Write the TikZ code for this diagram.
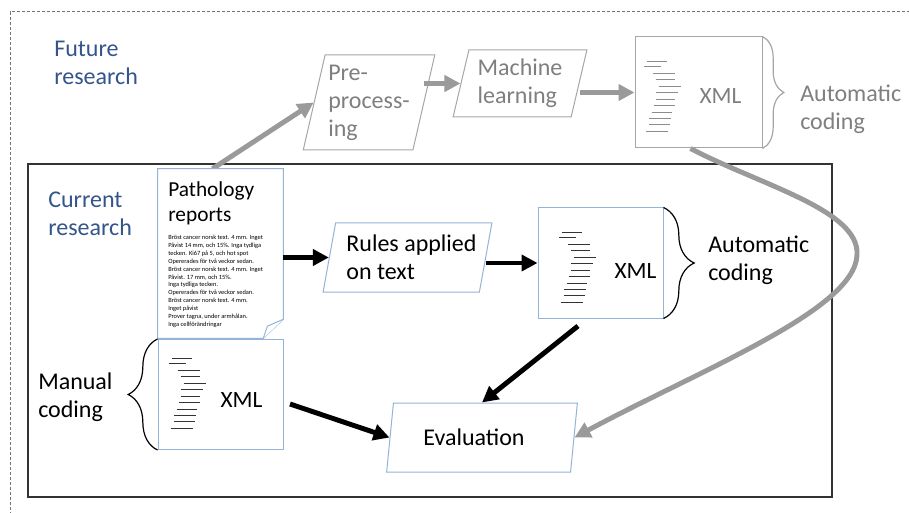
\documentclass[tikz,border=0pt]{standalone}
\usepackage{fontspec}
\setmainfont{Carlito}
\usetikzlibrary{shapes.geometric,arrows.meta,decorations.pathreplacing,calc}
\definecolor{titleblue}{HTML}{34558B}
\definecolor{docblue}{HTML}{95B3D7}
\definecolor{futgray}{HTML}{7F7F7F}
\definecolor{arrgray}{HTML}{9A9A9A}
\definecolor{boxgray}{HTML}{A6A6A6}
\newcommand\xmllines[4]{%
  \foreach \dx/\dy/\len in {0/25/20,-3/30/17,6/37/22,9/43/19,12/50/22,9/56/22,9/63/19,7/69/21,5/76/20,2/82/22,2/88/21,-1/95/22}
    {\draw[#4] ($(#1.north west)+({#2+\dx},{#3+\dy})$) -- ++(\len,0);}}
\begin{document}
\begin{tikzpicture}[x=0.75pt,y=-0.75pt,
  big/.style={font=\fontsize{18}{21}\selectfont, align=left, inner sep=0pt},
  para/.style={shape=trapezium, trapezium left angle=75, trapezium right angle=105,
    trapezium stretches=true, draw=docblue, line width=0.75pt, fill=white, big},
  futpara/.style={para, draw=boxgray, text=futgray},
  docbox/.style={draw=docblue, line width=0.75pt, fill=white, minimum width=93.75pt,
    minimum height=82.5pt, inner sep=0pt},
  futdoc/.style={docbox, draw=boxgray, minimum width=95.25pt, minimum height=83.25pt},
  xmlt/.style={font=\fontsize{17.5}{21}\selectfont, inner sep=0pt},
  xline/.style={line width=0.75pt, black!80},
  fxline/.style={line width=0.75pt, black!45},
  bracest/.style={decorate, line width=0.9pt},
  blk/.style={line width=3.7pt, -{Triangle[length=12pt,width=12pt]}, black},
  gry/.style={blk, color=arrgray},
]
\useasboundingbox (0,0) rectangle (909,513);
% outer dashed frame
\draw[black!55, line width=0.75pt, dash pattern=on 2.25pt off 1.5pt] (10,520) -- (10,12) -- (915,12);
% current research box
\draw[black!80, line width=1pt] (28,164) rectangle (832,497);

% titles
\node[big, text=titleblue, anchor=west] (fut) at (54,63) {Future\\research};
\node[big, text=titleblue, anchor=west] (cur) at (48,214) {Current\\research};

% pathology report document
\node[minimum width=93.75pt, minimum height=126.75pt, inner sep=0pt] (path) at (220.5,253.5) {};
% future research flow
\node[futpara, minimum width=99pt, minimum height=71.25pt] (pre) at (369,102.5) {Pre-\\process-\\ing};
\node[futpara, minimum width=100.5pt, minimum height=50.25pt] (ml) at (520,83.5) {Machine\\learning};
\node[futdoc] (fxml) at (698.5,92.5) {};
\xmllines{fxml}{12}{0}{fxline}
\node[xmlt, text=futgray] (fxmlt) at ($(fxml.center)+(22,4)$) {XML};
\draw[bracest, boxgray, decoration={brace, amplitude=16pt}] (fxml.north east) -- (fxml.south east);
\node[big, text=futgray, anchor=west] (fautoc) at (800,109) {Automatic\\coding};

\draw[gry] ([xshift=-6pt]path.north) -- (pre.west);
\draw[gry] (ml.west -| pre.east) -- (ml.west);
\draw[gry] (fxml.west -| ml.east) -- (fxml.west);

% pathology document outline
\draw[docblue, line width=0.75pt, fill=white] (path.north west) -- (path.north east)
  -- ($(path.south east)+(0,-19)$) -- ($(path.south east)+(-20,0)$) -- (path.south west) -- cycle;
\draw[docblue, line width=0.75pt, fill=white] ($(path.south east)+(0,-19)$)
  -- ($(path.south east)+(-16,-12)$) -- ($(path.south east)+(-20,0)$);
\node[font=\fontsize{16}{19}\selectfont, align=left, inner sep=0pt, anchor=north west] (ptitle) at (168,181) {Pathology\\reports};
\node[font=\fontsize{4.8}{5.9}\selectfont, align=left, inner sep=0pt, anchor=north west] (ptext) at (168,235)
 {Bröst cancer norsk text. 4 mm. Inget\\
  Påvist 14 mm, och 15\%. Inga tydliga\\
  tecken. Ki67 på 5, och hot spot\\
  Opererades för två veckor sedan.\\
  Bröst cancer norsk text. 4 mm. Inget\\
  Påvist. 17 mm, och 15\%.\\
  Inga tydliga tecken.\\
  Opererades för två veckor sedan.\\
  Bröst cancer norsk text. 4 mm.\\
  Inget påvist\\
  Prover tagna, under armhålan.\\
  Inga cellförändringar};

% rules
\node[para, minimum width=126.75pt, minimum height=51.75pt] (rules) at (407.5,257.5) {\hspace*{6pt}Rules applied\\\hspace*{6pt}on text};
% automatic xml
\node[docbox] (axml) at (600.5,263) {};
\xmllines{axml}{24}{0}{xline}
\node[xmlt] (axmlt) at ($(axml.center)+(35,8)$) {XML};
\draw[bracest, black, decoration={brace, amplitude=23pt}] (axml.north east) -- (axml.south east);
\node[big, anchor=west] (autoc) at (708,260) {Automatic\\coding};

% manual xml
\node[docbox] (mxml) at (220.5,394.5) {};
\xmllines{mxml}{14}{-6}{xline}
\node[xmlt] (mxmlt) at ($(mxml.center)+(21,6)$) {XML};
\draw[bracest, black, decoration={brace, amplitude=22pt}] (mxml.south west) -- (mxml.north west);
\node[big, anchor=west] (manual) at (38,397) {Manual\\coding};

% evaluation
\node[para, minimum width=144pt, minimum height=51.75pt] (eval) at (482,437.5) {Evaluation\hspace*{12pt}};

% black arrows
\draw[blk] (rules.west -| path.east) -- (rules.west);
\draw[blk] (axml.west -| rules.east) -- (axml.west);
\coordinate (a1) at (578,326);
\draw[blk] (a1) -- (eval.north);
\coordinate (m1) at (290,404);
\draw[blk] (m1) -- (eval.west);

% gray curve
\draw[gry] ([xshift=-6pt]fxml.south) .. controls (760,185) and (860,210) .. (857,255)
  .. controls (855,310) and (700,370) .. (eval.east);
\end{tikzpicture}
\end{document}
